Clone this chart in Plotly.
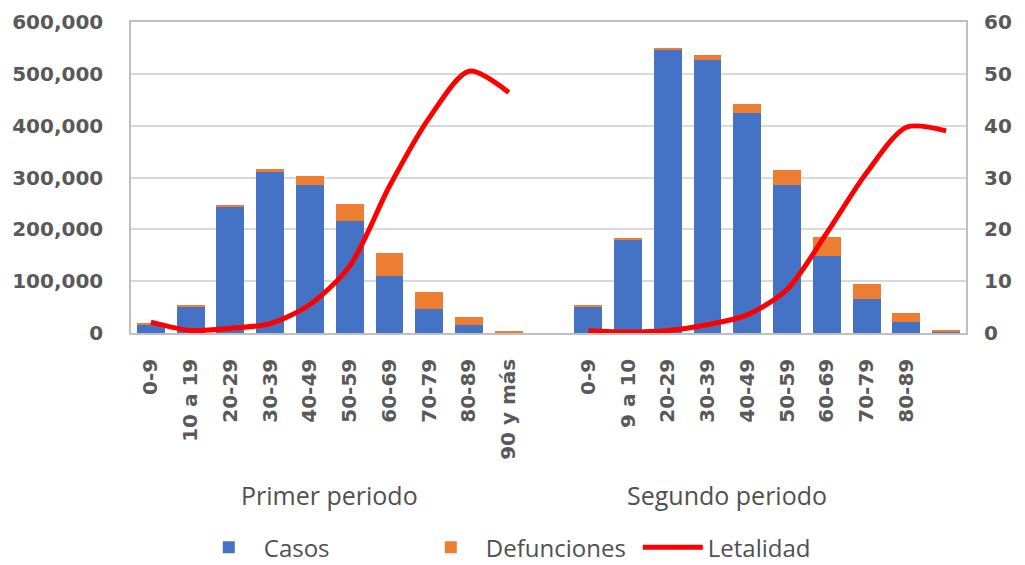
import plotly.graph_objects as go

# ---- data ----
labels_p1 = ["0-9", "10 a 19", "20-29", "30-39", "40-49", "50-59", "60-69", "70-79", "80-89", "90 y más"]
labels_p2 = ["0-9", "9 a 10", "20-29", "30-39", "40-49", "50-59", "60-69", "70-79", "80-89", ""]

casos_p1 = [16000, 51000, 245000, 311000, 285000, 217000, 110000, 46000, 16000, 1500]
def_p1 = [2000, 3000, 2500, 5000, 18000, 31000, 44000, 33500, 14000, 3000]
let_p1 = [2.1, 0.5, 0.9, 1.8, 5.5, 12.9, 28.3, 41.5, 50.5, 46.4]

casos_p2 = [51000, 181000, 546000, 527000, 424000, 285000, 149000, 66000, 22000, 1500]
def_p2 = [3000, 2000, 3000, 9500, 17500, 29000, 36000, 28000, 16500, 4500]
let_p2 = [0.45, 0.2, 0.5, 1.6, 3.5, 8.4, 19.3, 30.9, 39.7, 39.0]

group_titles = ["Primer periodo", "Segundo periodo"]

# ---- layout of categories: period 1, one empty slot, period 2 ----
n1 = len(labels_p1)
x_p1 = list(range(n1))
x_p2 = [n1 + 1 + i for i in range(len(labels_p2))]
x_all = x_p1 + x_p2
tick_text = labels_p1 + labels_p2

casos = casos_p1 + casos_p2
defs = def_p1 + def_p2
x_line = x_p1 + [n1] + x_p2
let_line = let_p1 + [None] + let_p2

BLUE = "#4472C4"
ORANGE = "#ED7D31"
RED = "#FF0000"
GREY = "#595959"
TICKFONT = dict(family="DejaVu Sans", size=20, color=GREY, weight="bold")
GROUPFONT = dict(family="Open Sans", size=25, color="#505050")
LEGFONT = dict(family="Open Sans", size=24, color="#505050")

fig = go.Figure()
fig.add_trace(go.Bar(x=x_all, y=casos, name="Casos", marker_color=BLUE, marker_line_width=0))
fig.add_trace(go.Bar(x=x_all, y=defs, name="Defunciones", marker_color=ORANGE, marker_line_width=0))
fig.add_trace(go.Scatter(x=x_line, y=let_line, name="Letalidad", mode="lines",
                         line=dict(color=RED, width=5, shape="spline", smoothing=0.8),
                         connectgaps=False, yaxis="y2"))

# page body has an 8px margin, so the figure is sized to end exactly at the window edges
fig.update_layout(
    width=1017, height=557,
    margin=dict(l=123, r=59, t=14, b=232, autoexpand=False),
    barmode="stack", bargap=0.3,
    plot_bgcolor="white", paper_bgcolor="white",
    showlegend=True,
    legend=dict(orientation="h", x=0.474, xanchor="center", y=-0.69, yanchor="middle",
                font=LEGFONT, itemwidth=60, traceorder="normal",
                entrywidth=147, entrywidthmode="pixels"),
    xaxis=dict(range=[-0.5, len(x_line) - 0.5], tickmode="array", tickvals=x_all, ticktext=tick_text,
               tickangle=-90, tickfont=TICKFONT, showgrid=False, zeroline=False,
               showline=True, linecolor="#BFBFBF", linewidth=1.5, mirror=True,
               ticks="", ticklabelstandoff=16, automargin=False),
    yaxis=dict(range=[0, 600000], dtick=100000, tickformat=",d", tickfont=TICKFONT,
               gridcolor="#D9D9D9", gridwidth=1.5, zeroline=False,
               showline=True, linecolor="#BFBFBF", linewidth=1.5, mirror=True,
               ticks="", ticklabelstandoff=22, automargin=False),
    yaxis2=dict(range=[0, 60], dtick=10, overlaying="y", side="right", tickfont=TICKFONT,
                showgrid=False, zeroline=False, showline=False, ticks="", ticklabelstandoff=17,
                automargin=False),
)

centers = [(x_p1[0] + x_p1[-1]) / 2, (x_p2[0] + x_p2[-1]) / 2 - 1]
for cx, title in zip(centers, group_titles):
    fig.add_annotation(x=cx, xref="x", y=-0.521, yref="paper", text=title, showarrow=False,
                       font=GROUPFONT, xanchor="center", yanchor="middle")

fig.write_html("out.html")
